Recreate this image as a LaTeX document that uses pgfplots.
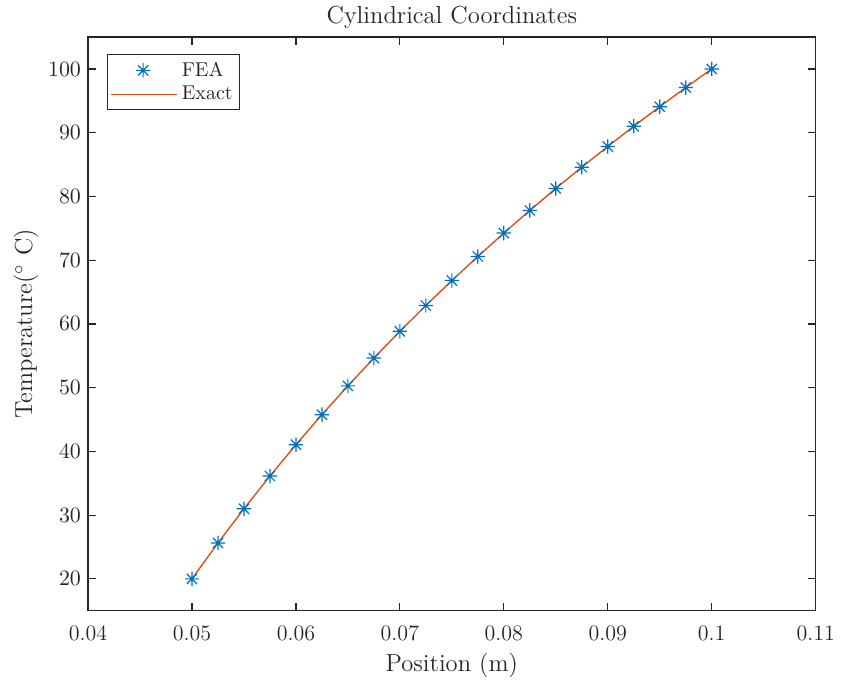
\documentclass[border=0pt]{standalone}
\usepackage{pgfplots}
\pgfplotsset{compat=1.18}
\definecolor{mblue}{RGB}{0,114,189}
\definecolor{morange}{RGB}{217,83,25}
\definecolor{mgray}{RGB}{38,38,38}
\pgfdeclareplotmark{mstar}{%
  \pgfpathmoveto{\pgfqpoint{-\pgfplotmarksize}{0pt}}\pgfpathlineto{\pgfqpoint{\pgfplotmarksize}{0pt}}%
  \pgfpathmoveto{\pgfqpoint{0pt}{-\pgfplotmarksize}}\pgfpathlineto{\pgfqpoint{0pt}{\pgfplotmarksize}}%
  \pgfpathmoveto{\pgfqpoint{-0.7071\pgfplotmarksize}{-0.7071\pgfplotmarksize}}\pgfpathlineto{\pgfqpoint{0.7071\pgfplotmarksize}{0.7071\pgfplotmarksize}}%
  \pgfpathmoveto{\pgfqpoint{-0.7071\pgfplotmarksize}{0.7071\pgfplotmarksize}}\pgfpathlineto{\pgfqpoint{0.7071\pgfplotmarksize}{-0.7071\pgfplotmarksize}}%
  \pgfusepathqstroke}
\pgfplotsset{
  feaimg/.style={legend image code/.code={\draw[##1] plot coordinates {(16pt,0pt)};\path (0pt,0pt) (33pt,0pt);}},
  exactimg/.style={legend image code/.code={\draw[##1] (0pt,0pt) -- (33pt,0pt);}},
}
\begin{document}
\begin{tikzpicture}
\begin{axis}[
  name=ax, at={(0,0)}, anchor=south west,
  scale only axis, width=363.8pt, height=286.8pt,
  xmin=0.04, xmax=0.11, ymin=15, ymax=105,
  xtick={0.04,0.05,0.06,0.07,0.08,0.09,0.1,0.11},
  xticklabels={0.04,0.05,0.06,0.07,0.08,0.09,0.1,0.11},
  ytick={20,30,40,50,60,70,80,90,100},
  scaled ticks=false,
  tick align=inside, major tick length=4pt,
  axis line style={mgray, line width=0.6pt},
  every tick/.style={mgray, line width=0.6pt},
  tick label style={font=\fontsize{11}{13}\selectfont, text=mgray},
  xticklabel style={yshift=-4pt},
  title={Cylindrical Coordinates},
  title style={font=\fontsize{12.3}{14}\selectfont, text=mgray, yshift=-5.5pt},
  xlabel={Position (m)},
  ylabel={Temperature($^\circ$ C)},
  label style={font=\fontsize{12.3}{14}\selectfont, text=mgray},
  xlabel style={yshift=1pt},
  ylabel style={yshift=-2pt},
  legend style={at={(0.026,0.97)}, anchor=north west, draw=mgray, line width=0.5pt,
    font=\fontsize{10}{12}\selectfont, text=mgray, inner sep=1.5pt, row sep=-0.5pt, cells={anchor=west}},
]
\addplot[only marks, mark=mstar, mark size=3.6pt, color=mblue, line width=0.6pt, feaimg]
coordinates {
(0.05,20) (0.0525,25.63) (0.055,31.00) (0.0575,36.13) (0.06,41.04) (0.0625,45.76)
(0.065,50.28) (0.0675,54.64) (0.07,58.84) (0.0725,62.89) (0.075,66.80) (0.0775,70.58)
(0.08,74.25) (0.0825,77.80) (0.085,81.25) (0.0875,84.59) (0.09,87.84) (0.0925,91.01)
(0.095,94.08) (0.0975,97.08) (0.1,100)
};
\addlegendentry{FEA}
\addplot[color=morange, line width=0.7pt, mark=none, exactimg]
coordinates {
(0.05,20) (0.0525,25.63) (0.055,31.00) (0.0575,36.13) (0.06,41.04) (0.0625,45.76)
(0.065,50.28) (0.0675,54.64) (0.07,58.84) (0.0725,62.89) (0.075,66.80) (0.0775,70.58)
(0.08,74.25) (0.0825,77.80) (0.085,81.25) (0.0875,84.59) (0.09,87.84) (0.0925,91.01)
(0.095,94.08) (0.0975,97.08) (0.1,100)
};
\addlegendentry{Exact}
\end{axis}
\path[use as bounding box] (-44pt,-35.85pt) rectangle (377.45pt,305.15pt);
\end{tikzpicture}
\end{document}
